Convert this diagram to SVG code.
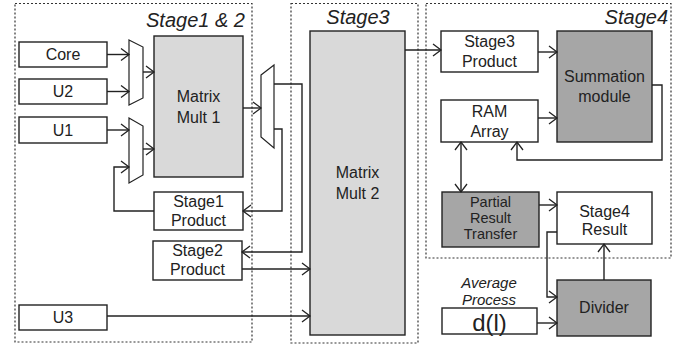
<svg xmlns="http://www.w3.org/2000/svg" width="689" height="350" viewBox="0 0 689 350">
<style>
.stage{fill:none;stroke:#333;stroke-width:1.2;stroke-dasharray:2,2}
.box{fill:#fff;stroke:#222;stroke-width:1.4}
.lg{fill:#d9d9d9;stroke:#222;stroke-width:1.4}
.dg{fill:#a6a6a6;stroke:#222;stroke-width:1.4}
.mux{fill:#fff;stroke:#222;stroke-width:1.2}
text{font-family:"Liberation Sans",Arial,sans-serif;font-size:16px;fill:#222;text-anchor:middle}
.st{font-size:20px;font-style:italic}
.it{font-size:15px;font-style:italic}
.sm{font-size:14.5px}
.conn path{fill:none;stroke:#222;stroke-width:1.4}
</style>
<defs>
<marker id="a" markerUnits="userSpaceOnUse" markerWidth="12" markerHeight="14" refX="9" refY="7" orient="auto-start-reverse">
<path d="M1,1 L9,7 L1,13" fill="none" stroke="#222" stroke-width="1.3"/>
</marker>
</defs>
<g id="stage12"><rect class="stage" x="15" y="3.5" width="237" height="338.5"/><text class="st" x="245" y="27" style="text-anchor:end">Stage1 &amp; 2</text></g>
<g id="stage3"><rect class="stage" x="291" y="3.5" width="127" height="339.5"/><text class="st" x="358" y="24">Stage3</text></g>
<g id="stage4"><rect class="stage" x="426" y="3.5" width="245" height="254.5"/><text class="st" x="668" y="24" style="text-anchor:end">Stage4</text></g>

<g id="core"><rect class="box" x="19" y="42" width="88" height="25"/><text x="63" y="60">Core</text></g>
<g id="u2"><rect class="box" x="19" y="79" width="88" height="25"/><text x="63" y="97">U2</text></g>
<g id="u1"><rect class="box" x="19" y="117" width="88" height="26"/><text x="63" y="136">U1</text></g>
<g id="u3"><rect class="box" x="19" y="305" width="88" height="25"/><text x="63" y="323">U3</text></g>
<g id="mux1"><path class="mux" d="M129,40 L143,47 L143,98 L129,105 Z"/></g>
<g id="mux2"><path class="mux" d="M129,118 L143,126 L143,175 L129,183 Z"/></g>
<g id="mm1"><rect class="lg" x="154" y="36" width="89" height="141"/><text x="198.5" y="102">Matrix</text><text x="198.5" y="123">Mult 1</text></g>
<g id="mux3"><path class="mux" d="M261,75 L274,65 L274,148 L261,137 Z"/></g>
<g id="s1p"><rect class="box" x="154" y="192" width="89" height="38"/><text x="198.5" y="207">Stage1</text><text x="198.5" y="226">Product</text></g>
<g id="s2p"><rect class="box" x="153" y="241" width="89" height="39"/><text x="197.5" y="256">Stage2</text><text x="197.5" y="275">Product</text></g>
<g id="mm2"><rect class="lg" x="310" y="31" width="95" height="304"/><text x="357.5" y="178">Matrix</text><text x="357.5" y="199">Mult 2</text></g>
<g id="s3p"><rect class="box" x="441" y="31" width="97" height="41"/><text x="489.5" y="47">Stage3</text><text x="489.5" y="67">Product</text></g>
<g id="sum"><rect class="dg" x="557" y="31" width="95" height="111"/><text x="604.5" y="82">Summation</text><text x="604.5" y="102">module</text></g>
<g id="ram"><rect class="box" x="441" y="100" width="97" height="42"/><text x="489.5" y="117">RAM</text><text x="489.5" y="137">Array</text></g>
<g id="prt"><rect class="dg" x="442" y="192" width="97" height="55"/><text class="sm" x="490.5" y="207">Partial</text><text class="sm" x="490.5" y="223">Result</text><text class="sm" x="490.5" y="239">Transfer</text></g>
<g id="s4r"><rect class="box" x="557" y="192" width="95" height="52"/><text x="604.5" y="217">Stage4</text><text x="604.5" y="235">Result</text></g>
<g id="div"><rect class="dg" x="557" y="280" width="94" height="56"/><text x="604" y="313">Divider</text></g>
<g id="avg"><text class="it" x="489" y="288">Average</text><text class="it" x="489" y="305">Process</text></g>
<g id="dl"><rect class="box" x="442" y="308" width="95" height="26"/><text x="489.5" y="331" style="font-size:24px">d(l)</text></g>

<g class="conn">
<path d="M107,54.5 H129" marker-end="url(#a)"/>
<path d="M107,91.5 H129" marker-end="url(#a)"/>
<path d="M143,72 H154" marker-end="url(#a)"/>
<path d="M107,130 H129" marker-end="url(#a)"/>
<path d="M154,211 H114 V167 H129" marker-end="url(#a)"/>
<path d="M143,149 H154" marker-end="url(#a)"/>
<path d="M243,108 H261" marker-end="url(#a)"/>
<path d="M274,84 H302 V252 H242" marker-end="url(#a)"/>
<path d="M274,129 H282 V211 H243" marker-end="url(#a)"/>
<path d="M242,269 H310" marker-end="url(#a)"/>
<path d="M107,316 H310" marker-end="url(#a)"/>
<path d="M405,50 H441" marker-end="url(#a)"/>
<path d="M538,52 H557" marker-end="url(#a)"/>
<path d="M538,118 H557" marker-end="url(#a)"/>
<path d="M652,85 H662 V160 H517 V142" marker-end="url(#a)"/>
<path d="M461,142 V192" marker-start="url(#a)" marker-end="url(#a)"/>
<path d="M539,205 H557" marker-end="url(#a)"/>
<path d="M557,232 H547 V297 H557" marker-end="url(#a)"/>
<path d="M604,280 V244" marker-end="url(#a)"/>
<path d="M537,323 H557" marker-end="url(#a)"/>
</g>
</svg>
